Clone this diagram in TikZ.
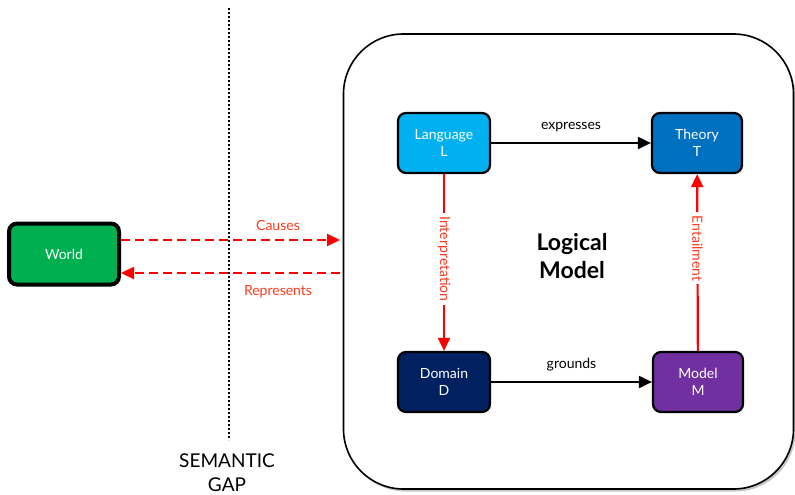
\documentclass[tikz,border=0pt]{standalone}
\usepackage{fontspec}
\setmainfont{Lato}
\usetikzlibrary{arrows.meta,shadows}

\definecolor{worldgreen}{HTML}{00B050}
\definecolor{langblue}{HTML}{00B0F0}
\definecolor{theoryblue}{HTML}{0070C0}
\definecolor{domainnavy}{HTML}{002060}
\definecolor{modelpurple}{HTML}{7030A0}
\definecolor{linkred}{HTML}{FF0000}
\definecolor{labelred}{HTML}{FF3A1A}

\tikzset{
  conceptbox/.style={draw=black, line width=2.2pt, rounded corners=8pt,
    minimum width=92pt, minimum height=60pt, text=white, align=center,
    font=\fontsize{14}{17}\selectfont},
  blackarrow/.style={draw=black, line width=2pt, -{Triangle[length=13pt,width=12pt]}},
  redarrow/.style={draw=linkred, line width=2.2pt, -{Triangle[length=13pt,width=12pt]}},
  reddashed/.style={redarrow, dash pattern=on 9pt off 5pt},
  linklabel/.style={font=\fontsize{14}{17}\selectfont},
  redlabel/.style={linklabel, text=labelred},
}

\begin{document}
\begin{tikzpicture}[x=1pt, y=-1pt]
  \useasboundingbox (0,0) rectangle (795,495);

  % logical model frame
  \node[draw=black, line width=1.6pt, rounded corners=60pt, fill=white,
        minimum width=450pt, minimum height=455pt,
        drop shadow={shadow xshift=2pt, shadow yshift=-2.5pt, opacity=0.45}]
        (frame) at (568.5,261.5) {};

  % semantic gap
  \coordinate (gaptop) at (229,8);
  \coordinate (gapbot) at (229,440);
  \draw[line width=2pt, dash pattern=on 2pt off 2pt] (gaptop) -- (gapbot);
  \node[align=center, font=\fontsize{19}{24}\selectfont] (gap) at (227,473)
        {SEMANTIC\\GAP};

  % concept boxes
  \node[conceptbox, line width=4pt, fill=worldgreen, minimum width=110pt,
        minimum height=61pt] (world) at (64,254) {World};
  \node[conceptbox, fill=langblue] (lang) at (444,143) {Language\\L};
  \node[conceptbox, fill=theoryblue, minimum width=90pt] (theory) at (697,143) {Theory\\T};
  \node[conceptbox, fill=domainnavy] (domain) at (444,382) {Domain\\D};
  \node[conceptbox, fill=modelpurple, minimum width=90pt] (model) at (698,382) {Model\\M};

  \node[align=center, font=\fontsize{23}{28}\bfseries\selectfont] (title) at (572,256)
        {Logical\\Model};

  % connectors inside the frame
  \draw[blackarrow] (lang) -- (theory)
        node[midway, above=7pt, linklabel] (expr) {expresses};
  \draw[blackarrow] (domain) -- (model)
        node[midway, above=7pt, linklabel] (grnd) {grounds};
  \draw[redarrow] (lang) -- (domain)
        node[pos=0.48, fill=white, rotate=-90, redlabel, inner sep=3pt] (interp) {Interpretation};
  \draw[redarrow] (model) -- (theory)
        node[pos=0.58, fill=white, rotate=-90, redlabel, inner sep=3pt] (entail) {Entailment};

  % links across the gap
  \coordinate (causeend) at (340,240);
  \coordinate (repstart) at (340,273);
  \draw[reddashed] (world.east |- causeend) -- (causeend);
  \draw[reddashed] (repstart) -- (world.east |- repstart);
  \node[redlabel] (causes) at (278,225) {Causes};
  \node[redlabel] (represents) at (278,292) {Represents};
\end{tikzpicture}
\end{document}
